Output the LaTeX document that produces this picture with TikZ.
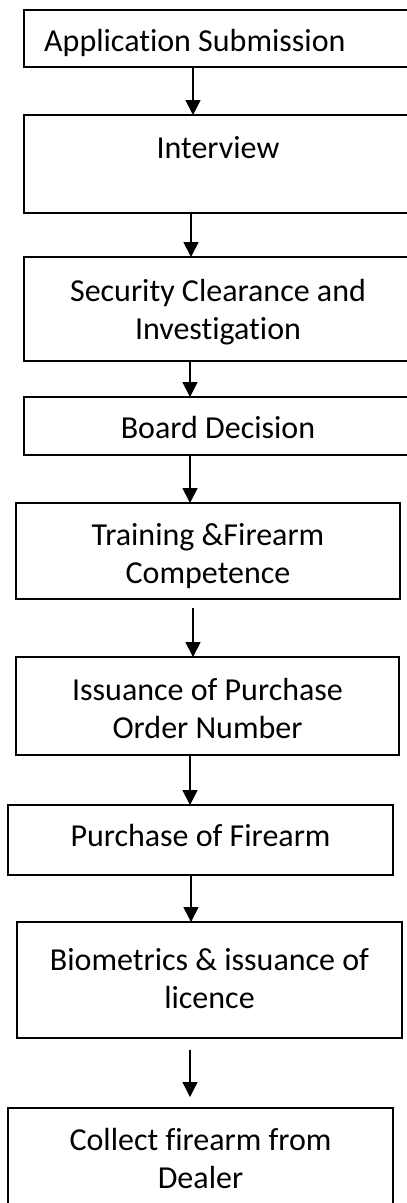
\documentclass[tikz,border=0pt]{standalone}
\usepackage{fontspec}
\setmainfont{Carlito}[Ligatures={NoCommon}]
\usetikzlibrary{arrows.meta}
\tikzset{
  box/.style={draw=black, line width=1.8pt, rectangle, inner sep=0pt, outer sep=0pt},
  lbl/.style={font=\fontsize{32}{38}\selectfont, align=center, inner sep=0pt, anchor=base},
  arr/.style={line width=1.8pt, -{Triangle[width=15pt,length=15pt]}},
  thinarr/.style={line width=1.3pt, -{Triangle[width=15pt,length=15pt]}}
}
\newcommand{\boxat}[5]{% name, left, top, right, bottom
  \node[box, minimum width={#4-#2}, minimum height={#5-#3}] (#1) at ({(#2+#4)/2},{(#3+#5)/2}) {};}
\begin{document}
\begin{tikzpicture}[x=1pt,y=-1pt]
\fill[white] (0,0) rectangle (407,1203);
\useasboundingbox (0,0) rectangle (407,1203);
\clip (0,0) rectangle (407,1203);

\boxat{b1}{24}{10}{412}{67}
\boxat{b2}{24}{115}{412}{213}
\boxat{b3}{24}{257}{412}{361}
\boxat{b4}{24}{397}{412}{455}
\boxat{b5}{16}{503}{400}{599}
\boxat{b6}{16}{657}{399}{755}
\boxat{b7}{8}{805}{393}{875}
\boxat{b8}{17}{922}{402}{1038}
\boxat{b9}{8}{1108}{393}{1220}

% anchor=base is the baseline of the last line
\node[lbl, anchor=base west] (t1) at (44,51) {Application Submission};
\node[lbl] (t2) at (218,158) {Interview};
\node[lbl] (t3) at (218,339) {Security Clearance and\\Investigation};
\node[lbl] (t4) at (218,438) {Board Decision};
\node[lbl] (t5) at (208,583) {Training \&Firearm\\Competence};
\node[lbl] (t6) at (207.5,738) {Issuance of Purchase\\Order Number};
\node[lbl] (t7) at (200.5,846) {Purchase of Firearm};
\node[lbl] (t8) at (209.5,1008) {Biometrics \& issuance of\\licence};
\node[lbl] (t9) at (200.5,1188) {Collect firearm from\\Dealer};

\coordinate (c1) at (193,0);
\coordinate (c2) at (191,0);
\coordinate (c3) at (190,0);
\coordinate (c4) at (190,0);
\coordinate (c5) at (193,0);
\coordinate (c6) at (190,0);
\coordinate (c7) at (191,0);
\coordinate (c8) at (190,0);

\draw[arr] (b1.south -| c1) -- (b2.north -| c1);
\draw[arr] (b2.south -| c2) -- (b3.north -| c2);
\draw[arr] (b3.south -| c3) -- (b4.north -| c3);
\draw[arr] (b4.south -| c4) -- (b5.north -| c4);
\draw[arr, shorten <=9pt] (b5.south -| c5) -- (b6.north -| c5);
\draw[arr] (b6.south -| c6) -- (b7.north -| c6);
\draw[arr] (b7.south -| c7) -- (b8.north -| c7);
\draw[thinarr, shorten <=12pt, shorten >=11pt] (b8.south -| c8) -- (b9.north -| c8);
\end{tikzpicture}
\end{document}
